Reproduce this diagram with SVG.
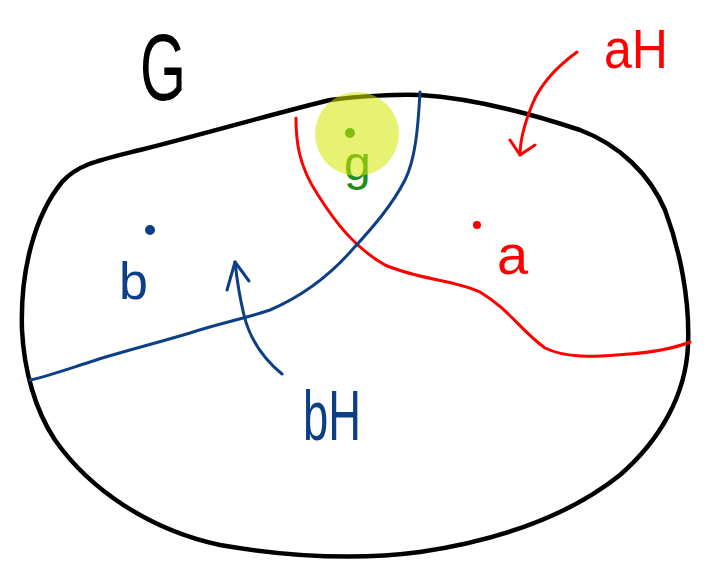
<svg xmlns="http://www.w3.org/2000/svg" width="706" height="562" viewBox="0 0 706 562">
<style>
.ink{fill:none;stroke-linecap:round;stroke-linejoin:round}
.k{stroke:#000;stroke-width:4.5}
.r{stroke:#ff0000;stroke-width:3}
.bl{stroke:#0d3f86;stroke-width:3}
.t{font-family:"Liberation Sans","DejaVu Sans",sans-serif}
</style>
<rect width="706" height="562" fill="#fff"/>
<g id="G-set">
<path class="ink k" d="M22,330 C20,270 35,215 62,182 C78,164 100,160 140,150 C200,135 280,112 330,100 C360,96 400,94 420,95 C470,98 520,110 580,130 C620,145 650,175 665,210 C680,250 690,300 688,345 C686,395 660,440 620,475 C570,515 500,540 420,552 C360,560 290,557 220,545 C150,530 90,490 55,440 C35,410 24,370 22,330 Z"/>
<text class="t" x="140" y="100" font-size="95" textLength="46" lengthAdjust="spacingAndGlyphs" fill="#000">G</text>
</g>
<g id="aH-set">
<path class="ink r" d="M296,118 C296,140 298,165 318,195 C335,222 355,248 385,265 C420,280 455,280 480,292 C510,310 520,330 545,348 C570,360 600,356 630,354 C655,352 675,348 690,342"/>
<circle cx="477" cy="225" r="4" fill="#ff0000"/>
<text class="t" x="497" y="274" font-size="56" fill="#ff0000">a</text>
<text class="t" x="604" y="68" font-size="56" textLength="64" lengthAdjust="spacingAndGlyphs" fill="#ff0000">aH</text>
</g>
<g id="bH-set">
<path class="ink bl" d="M420,92 C418,130 415,160 405,180 C392,205 375,225 352,250 C330,275 305,295 270,310 C240,320 220,323 190,333 C150,345 120,352 90,362 C65,370 45,377 30,380"/>
<circle cx="150" cy="230" r="5" fill="#0d3f86"/>
<text class="t" x="119" y="299" font-size="52" fill="#0d3f86">b</text>
<text class="t" x="303" y="440" font-size="70" textLength="58" lengthAdjust="spacingAndGlyphs" fill="#0d3f86">bH</text>
</g>
<g id="g-point">
<text class="t" x="344" y="180" font-size="48" fill="#1e8c1e">g</text>
<circle cx="350" cy="133" r="5" fill="#1e8c1e"/>
<circle cx="357" cy="134" r="42" fill="#d4e800" fill-opacity="0.55"/>
</g>
<g id="connectors">
<path class="ink r" d="M577,52 C555,68 540,85 532,105 C524,125 520,140 520,155"/>
<path class="ink r" d="M510,140 L520,155 L535,145"/>
<path class="ink bl" d="M282,374 C265,360 250,340 244,315 C239,295 237,280 235,262"/>
<path class="ink bl" d="M227,290 L235,262 L249,281"/>
</g>
</svg>
